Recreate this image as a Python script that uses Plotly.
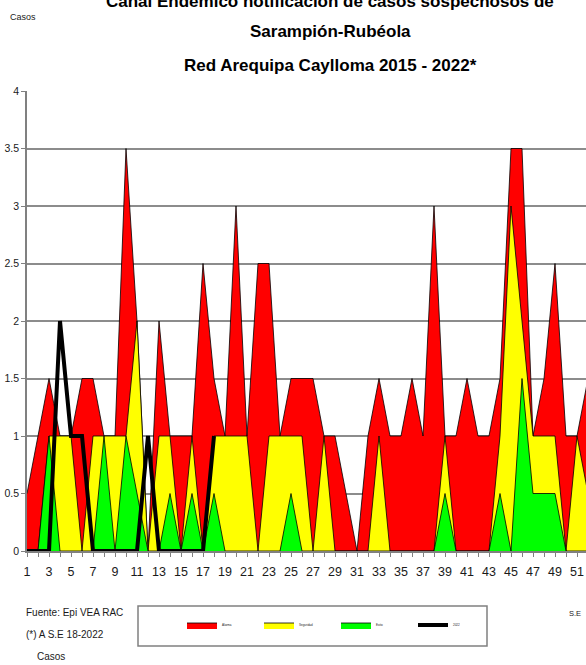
import plotly.graph_objects as go

# ---- data ----
weeks = list(range(1, 53))
alarma = [0.5, 1, 1.5, 1, 1, 1.5, 1.5, 1, 1, 3.5, 2, 0, 2, 1, 1, 1, 2.5, 1.5, 1, 3,
          1, 2.5, 2.5, 1, 1.5, 1.5, 1.5, 1, 1, 0.5, 0, 1, 1.5, 1, 1, 1.5, 1, 3, 1, 1,
          1.5, 1, 1, 1.5, 3.5, 3.5, 1, 1.5, 2.5, 1, 1, 1.5]
seguridad = [0, 0, 1, 1, 1, 0, 1, 1, 1, 1, 2, 0, 1, 1, 0, 1, 0, 1, 1, 1,
             1, 0, 1, 1, 1, 1, 0, 1, 0, 0, 0, 0, 1, 0, 0, 0, 0, 0, 1, 0,
             0, 0, 0, 1, 3, 2, 1, 1, 1, 0, 1, 0.5]
exito = [0, 0, 1, 0, 0, 0, 0, 1, 0, 1, 0.5, 0, 0, 0.5, 0, 0.5, 0, 0.5, 0, 0,
         0, 0, 0, 0, 0.5, 0, 0, 0, 0, 0, 0, 0, 0, 0, 0, 0, 0, 0, 0.5, 0,
         0, 0, 0, 0.5, 0, 1.5, 0.5, 0.5, 0.5, 0, 0, 0]
weeks_2022 = list(range(1, 19))
casos_2022 = [0, 0, 0, 2, 1, 1, 0, 0, 0, 0, 0, 1, 0, 0, 0, 0, 0, 1]

y_ticks = [0, 0.5, 1, 1.5, 2, 2.5, 3, 3.5, 4]
y_ticktext = ["0", "0.5", "1", "1.5", "2", "2.5", "3", "3.5", "4"]
x_ticktext = [str(w) if w % 2 == 1 else "" for w in weeks]

title_lines = ["Canal Endémico notificación de casos sospechosos de",
               "Sarampión-Rubéola",
               "Red Arequipa Caylloma 2015 - 2022*"]

FONT = "Liberation Sans, Arial, sans-serif"

W, H = 586, 665
ML, MR, MT, MB = 27, 0, 91, 114
PW = W - ML - MR
PH = H - MT - MB


def px(x):
    return (x - ML) / PW


def py(y):
    return (H - MB - y) / PH


fig = go.Figure()
fig.add_trace(go.Scatter(x=weeks, y=alarma, name="Alarma", mode="lines", fill="tozeroy",
                         fillcolor="#FF0000", line=dict(color="black", width=0.8)))
fig.add_trace(go.Scatter(x=weeks, y=seguridad, name="Seguridad", mode="lines", fill="tozeroy",
                         fillcolor="#FFFF00", line=dict(color="black", width=0.8)))
fig.add_trace(go.Scatter(x=weeks, y=exito, name="Exito", mode="lines", fill="tozeroy",
                         fillcolor="#00FF00", line=dict(color="black", width=0.8)))
fig.add_trace(go.Scatter(x=weeks_2022, y=casos_2022, name="2022", mode="lines",
                         line=dict(color="black", width=4)))

fig.update_layout(
    width=W, height=H,
    margin=dict(l=ML, r=MR, t=MT, b=MB, pad=0),
    paper_bgcolor="white", plot_bgcolor="white",
    font=dict(family=FONT, color="#1a1a1a"),
    showlegend=True,
    legend=dict(orientation="h", x=px(182), y=py(625), xanchor="left", yanchor="middle",
                font=dict(size=3, family=FONT), entrywidth=32, entrywidthmode="pixels",
                bgcolor="rgba(0,0,0,0)", borderwidth=0, itemclick=False),
    xaxis=dict(range=[1, 1 + PW / 11.0], tickmode="array", tickvals=weeks, ticktext=x_ticktext,
               ticks="outside", ticklen=4, tickcolor="#808080", showline=True, linecolor="#808080",
               linewidth=1.5, showgrid=False, zeroline=False, automargin=False,
               ticklabelstandoff=4,
               tickfont=dict(size=12.5, family=FONT, color="#1a1a1a")),
    yaxis=dict(range=[0, 4], tickmode="array", tickvals=y_ticks, ticktext=y_ticktext,
               ticks="outside", ticklen=4, tickcolor="#808080", showline=True, linecolor="#808080",
               linewidth=1.5, showgrid=True, gridcolor="#8c8c8c", gridwidth=1.5, zeroline=False,
               automargin=False, tickfont=dict(size=10.5, family=FONT, color="#1a1a1a")),
    shapes=[dict(type="rect", xref="paper", yref="paper", x0=px(138), x1=px(487),
                 y0=py(646), y1=py(606), line=dict(color="#808080", width=1.5),
                 fillcolor="rgba(0,0,0,0)", layer="below")],
)

annotations = []
for txt, yc in zip(title_lines, [1, 32, 65]):
    annotations.append(dict(text="<b>" + txt + "</b>", x=px(330), y=py(yc), xanchor="center",
                            yanchor="middle", font=dict(size=17, family=FONT, color="black"),
                            showarrow=False))
annotations += [
    dict(text="Casos", x=px(8), y=py(17), xanchor="left", yanchor="middle",
         font=dict(size=9, family=FONT), showarrow=False),
    dict(text="Fuente: Epi VEA RAC", x=px(24), y=py(612), xanchor="left", yanchor="middle",
         font=dict(size=10, family=FONT), showarrow=False),
    dict(text="(*) A S.E 18-2022", x=px(24), y=py(634), xanchor="left", yanchor="middle",
         font=dict(size=10, family=FONT), showarrow=False),
    dict(text="Casos", x=px(35), y=py(656), xanchor="left", yanchor="middle",
         font=dict(size=10, family=FONT), showarrow=False),
    dict(text="S.E", x=px(567), y=py(613), xanchor="left", yanchor="middle",
         font=dict(size=7.5, family=FONT), showarrow=False),
]
for a in annotations:
    a.update(xref="paper", yref="paper")
fig.update_layout(annotations=annotations)

fig.write_html("out.html", config={"displayModeBar": False},
               post_script="document.body.style.margin='0px';document.body.style.overflow='hidden';")
